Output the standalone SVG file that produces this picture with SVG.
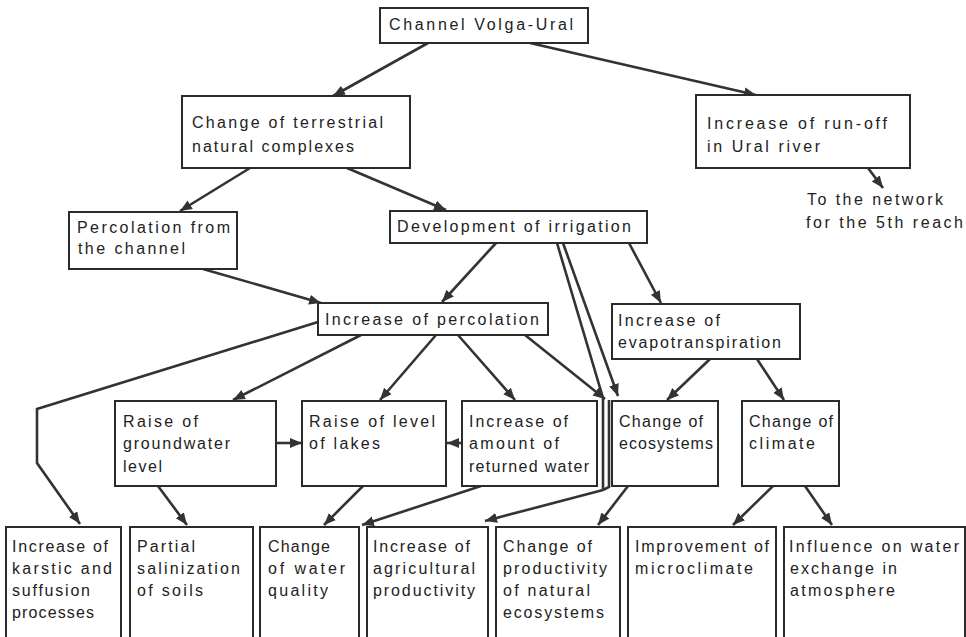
<svg xmlns="http://www.w3.org/2000/svg" width="966" height="637" viewBox="0 0 966 637">
<style>
.box{fill:#fff;stroke:#2b2b2b;stroke-width:2}
.t{font-family:"Liberation Sans",Arial,sans-serif;font-size:16px;fill:#222}
.c{fill:none;stroke:#333;stroke-width:2.6;stroke-linejoin:miter}
.a{marker-end:url(#ah)}
</style>
<defs>
<marker id="ah" markerUnits="userSpaceOnUse" markerWidth="14" markerHeight="12" refX="12" refY="5" orient="auto">
<path d="M0,0 L12,5 L0,10 z" fill="#333"/>
</marker>
</defs>
<rect width="966" height="637" fill="#fff"/>

<g id="connectors">
<path class="c a" d="M428,43 L333,96"/>
<path class="c a" d="M530,43 L756,95"/>
<path class="c a" d="M868,168 L883,188"/>
<path class="c a" d="M250,168 L180,211"/>
<path class="c a" d="M347,168 L446,210"/>
<path class="c a" d="M203,269 L321,303"/>
<path class="c a" d="M496,243 L442,302"/>
<path class="c a" d="M629,243 L661,303"/>
<path class="c" d="M557,243 L603,398 L603,490"/>
<path class="c a" d="M603,490 L485,521"/>
<path class="c" d="M609,400 L609,487 L603,490"/>
<path class="c a" d="M525,335 L605,399"/>
<path class="c a" d="M563,243 L618,396"/>
<path class="c a" d="M318,322 L37,409 L37,463 L80,524"/>
<path class="c a" d="M361,335 L233,400"/>
<path class="c a" d="M436,335 L380,400"/>
<path class="c a" d="M458,335 L515,400"/>
<path class="c a" d="M276,443 L302,443"/>
<path class="c a" d="M462,443 L447,443"/>
<path class="c a" d="M710,359 L667,400"/>
<path class="c a" d="M757,359 L784,400"/>
<path class="c a" d="M158,486 L187,525"/>
<path class="c a" d="M363,486 L324,525"/>
<path class="c a" d="M481,486 L362,525"/>
<path class="c a" d="M628,486 L598,525"/>
<path class="c a" d="M773,486 L733,525"/>
<path class="c a" d="M805,486 L832,525"/>
</g>

<g id="channel">
<rect class="box" x="380" y="8" width="208" height="35"/>
<text class="t" x="389" y="30" textLength="184">Channel Volga-Ural</text>
</g>
<g id="terrestrial">
<rect class="box" x="182" y="96" width="228" height="72"/>
<text class="t" x="192" y="128" textLength="191">Change of terrestrial</text>
<text class="t" x="192" y="152" textLength="162">natural complexes</text>
</g>
<g id="runoff">
<rect class="box" x="696" y="95" width="214" height="73"/>
<text class="t" x="707" y="129" textLength="180">Increase of run-off</text>
<text class="t" x="707" y="152" textLength="113">in Ural river</text>
</g>
<g id="network">
<text class="t" x="807" y="205" textLength="136">To the network</text>
<text class="t" x="806" y="228" textLength="157">for the 5th reach</text>
</g>
<g id="percolation-channel">
<rect class="box" x="69" y="212" width="168" height="57"/>
<text class="t" x="77" y="233" textLength="153">Percolation from</text>
<text class="t" x="78" y="254" textLength="107">the channel</text>
</g>
<g id="irrigation">
<rect class="box" x="390" y="211" width="257" height="32"/>
<text class="t" x="397" y="232" textLength="234">Development of irrigation</text>
</g>
<g id="increase-percolation">
<rect class="box" x="318" y="303" width="230" height="32"/>
<text class="t" x="325" y="325" textLength="214">Increase of percolation</text>
</g>
<g id="evapotranspiration">
<rect class="box" x="612" y="304" width="188" height="55"/>
<text class="t" x="618" y="326" textLength="102">Increase of</text>
<text class="t" x="618" y="348" textLength="163">evapotranspiration</text>
</g>
<g id="groundwater">
<rect class="box" x="115" y="401" width="161" height="85"/>
<text class="t" x="123" y="427" textLength="75">Raise of</text>
<text class="t" x="123" y="449" textLength="107">groundwater</text>
<text class="t" x="123" y="472" textLength="39">level</text>
</g>
<g id="lakes">
<rect class="box" x="302" y="401" width="144" height="85"/>
<text class="t" x="309" y="427" textLength="126">Raise of level</text>
<text class="t" x="309" y="449" textLength="71">of lakes</text>
</g>
<g id="returned-water">
<rect class="box" x="462" y="401" width="135" height="85"/>
<text class="t" x="469" y="427" textLength="99">Increase of</text>
<text class="t" x="469" y="449" textLength="90">amount of</text>
<text class="t" x="469" y="472" textLength="120">returned water</text>
</g>
<g id="ecosystems">
<rect class="box" x="612" y="401" width="106" height="85"/>
<text class="t" x="619" y="427" textLength="84">Change of</text>
<text class="t" x="619" y="449" textLength="94">ecosystems</text>
</g>
<g id="climate">
<rect class="box" x="742" y="401" width="97" height="85"/>
<text class="t" x="749" y="427" textLength="84">Change of</text>
<text class="t" x="749" y="449" textLength="66">climate</text>
</g>
<g id="karstic">
<rect class="box" x="6" y="527" width="115" height="120"/>
<text class="t" x="12" y="552" textLength="96">Increase of</text>
<text class="t" x="12" y="574" textLength="100">karstic and</text>
<text class="t" x="12" y="596" textLength="78">suffusion</text>
<text class="t" x="12" y="618" textLength="82">processes</text>
</g>
<g id="salinization">
<rect class="box" x="130" y="527" width="123" height="120"/>
<text class="t" x="137" y="552" textLength="58">Partial</text>
<text class="t" x="137" y="574" textLength="103">salinization</text>
<text class="t" x="137" y="596" textLength="66">of soils</text>
</g>
<g id="water-quality">
<rect class="box" x="260" y="527" width="99" height="120"/>
<text class="t" x="268" y="552" textLength="62">Change</text>
<text class="t" x="268" y="574" textLength="77">of water</text>
<text class="t" x="268" y="596" textLength="60">quality</text>
</g>
<g id="agricultural">
<rect class="box" x="367" y="527" width="121" height="120"/>
<text class="t" x="373" y="552" textLength="97">Increase of</text>
<text class="t" x="373" y="574" textLength="102">agricultural</text>
<text class="t" x="373" y="596" textLength="102">productivity</text>
</g>
<g id="natural-productivity">
<rect class="box" x="496" y="527" width="124" height="120"/>
<text class="t" x="503" y="552" textLength="89">Change of</text>
<text class="t" x="503" y="574" textLength="104">productivity</text>
<text class="t" x="503" y="596" textLength="87">of natural</text>
<text class="t" x="503" y="618" textLength="101">ecosystems</text>
</g>
<g id="microclimate">
<rect class="box" x="628" y="527" width="148" height="120"/>
<text class="t" x="635" y="552" textLength="134">Improvement of</text>
<text class="t" x="635" y="574" textLength="118">microclimate</text>
</g>
<g id="water-exchange">
<rect class="box" x="784" y="527" width="181" height="120"/>
<text class="t" x="789" y="552" textLength="170">Influence on water</text>
<text class="t" x="790" y="574" textLength="107">exchange in</text>
<text class="t" x="790" y="596" textLength="105">atmosphere</text>
</g>
</svg>
